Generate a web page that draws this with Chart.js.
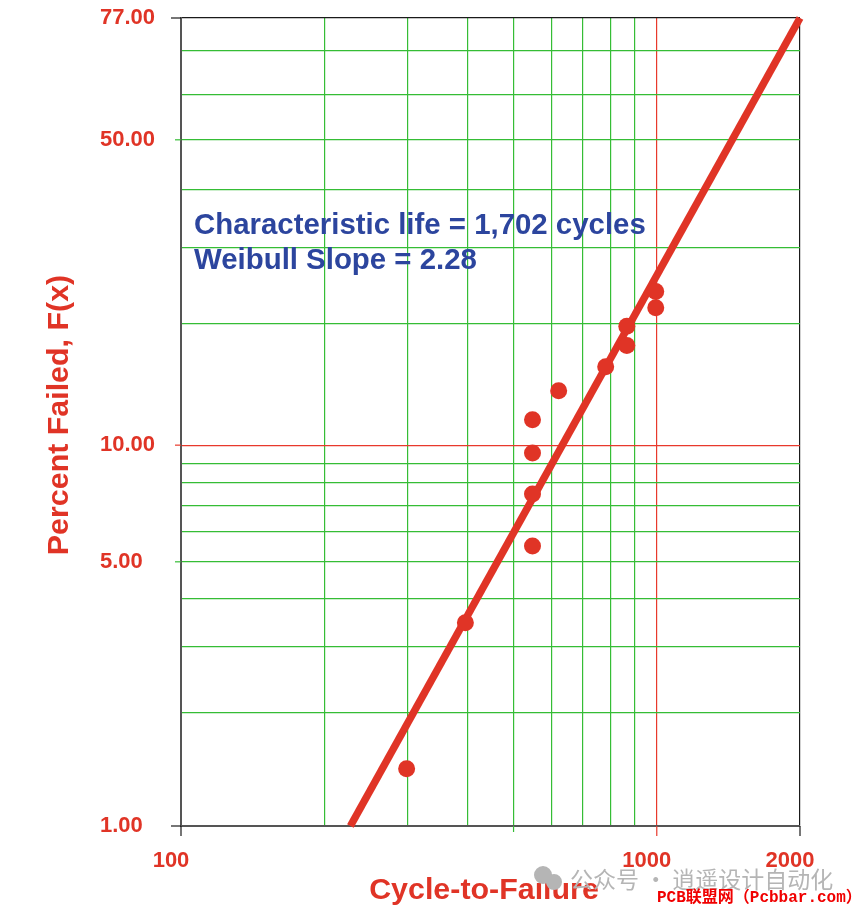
<!DOCTYPE html>
<html>
<head>
<meta charset="utf-8">
<title>Weibull plot</title>
<script src="https://cdn.jsdelivr.net/npm/chart.js@4"></script>
<style>
  html, body { margin: 0; padding: 0; background: #fff; }
  canvas { display: block; }
</style>
</head>
<body>
<canvas id="weibullChart" width="858" height="913"></canvas>
<script>
// Data
const cycles = [298, 396, 548, 548, 548, 548, 622, 781, 865, 865, 995, 995];
const percentFailed = [1.42, 3.46, 5.5, 7.5, 9.55, 11.6, 13.7, 15.7, 17.7, 19.7, 21.8, 23.8];
const fitCycles = [227, 2000];
const fitPercent = [1, 77];

// Tick positions
const xGrid = [100, 200, 300, 400, 500, 600, 700, 800, 900, 1000, 2000];
const xLabels = [100, 1000, 2000];
const yGrid = [1, 2, 3, 4, 5, 6, 7, 8, 9, 10, 20, 30, 40, 50, 60, 70, 77];
const yLabels = [1, 5, 10, 50, 77];

const RED = '#e03426';
const GREEN = '#35bd35';
const BLACK = '#1a1a1a';

// Weibull probability paper: y axis is linear in ln(-ln(1-F))
function weibull(percent) {
    return Math.log(-Math.log(1 - percent / 100));
}

function gridColor(isEdge, isRed) {
    if (isEdge) return BLACK;
    return isRed ? '#e8392c' : GREEN;
}

// Short tick marks outside the frame
const tickMarks = {
    id: 'tickMarks',
    beforeDatasetsDraw(chart) {
        const { ctx, scales: { x, y } } = chart;
        ctx.save();
        ctx.lineWidth = 1.2;
        function mark(x1, y1, x2, y2, color) {
            ctx.strokeStyle = color;
            ctx.beginPath();
            ctx.moveTo(x1, y1);
            ctx.lineTo(x2, y2);
            ctx.stroke();
        }
        [100, 500, 1000, 2000].forEach(v => {
            const px = x.getPixelForValue(v);
            const color = v === 500 ? GREEN : v === 1000 ? '#e8392c' : BLACK;
            mark(px, y.bottom, px, y.bottom + (v === 500 ? 6 : 10), color);
        });
        yLabels.forEach(p => {
            const py = y.getPixelForValue(weibull(p));
            const edge = p === 1 || p === 77;
            mark(x.left, py, x.left - (edge ? 10 : 6), py, gridColor(edge, p === 10));
        });
        ctx.restore();
    }
};

// Axis titles, the note in the plot and the watermarks
const textLayer = {
    id: 'textLayer',
    afterDraw(chart) {
        const { ctx } = chart;
        ctx.save();
        ctx.textBaseline = 'middle';

        ctx.fillStyle = RED;
        ctx.textAlign = 'center';
        ctx.font = 'bold 30.4px "Liberation Sans"';
        ctx.fillText('Cycle-to-Failure', 484, 891);
        ctx.save();
        ctx.translate(60, 415);
        ctx.rotate(-Math.PI / 2);
        ctx.fillText('Percent Failed, F(x)', 0, 0);
        ctx.restore();

        ctx.fillStyle = '#2c459e';
        ctx.textAlign = 'left';
        ctx.font = 'bold 29.4px "Liberation Sans"';
        ctx.fillText('Characteristic life = 1,702 cycles', 194, 226);
        ctx.fillText('Weibull Slope = 2.28', 194, 261);

        ctx.fillStyle = '#b5b5b5';
        ctx.beginPath();
        ctx.arc(543, 875, 9, 0, Math.PI * 2);
        ctx.arc(554, 882, 8, 0, Math.PI * 2);
        ctx.fill();
        ctx.font = '23px "Noto Sans CJK SC"';
        ctx.fillText('公众号 · 逍遥设计自动化', 570, 879);

        ctx.fillStyle = '#f00000';
        ctx.font = 'bold 16px "Liberation Mono", "Noto Sans CJK SC"';
        ctx.fillText('PCB联盟网（Pcbbar.com）', 657, 898);
        ctx.restore();
    }
};

new Chart(document.getElementById('weibullChart'), {
    type: 'scatter',
    data: {
        datasets: [
            {
                label: 'Failures',
                data: cycles.map((c, i) => ({ x: c, y: weibull(percentFailed[i]) })),
                backgroundColor: RED,
                borderColor: RED,
                pointRadius: 8.5,
                pointBorderWidth: 0,
                showLine: false
            },
            {
                label: 'Weibull fit',
                data: fitCycles.map((c, i) => ({ x: c, y: weibull(fitPercent[i]) })),
                borderColor: RED,
                borderWidth: 7.5,
                pointRadius: 0,
                showLine: true,
                clip: false
            }
        ]
    },
    options: {
        responsive: false,
        animation: false,
        layout: { padding: { left: 100, top: 18, right: 58, bottom: 0 } },
        plugins: {
            legend: { display: false },
            tooltip: { enabled: false }
        },
        scales: {
            x: {
                type: 'logarithmic',
                min: 100,
                max: 2000,
                afterFit(scale) { scale.height = 87; },
                afterBuildTicks(scale) { scale.ticks = xGrid.map(v => ({ value: v })); },
                grid: {
                    drawTicks: false,
                    lineWidth: 1.2,
                    color: c => gridColor(c.tick.value === 2000, c.tick.value === 1000)
                },
                border: { color: '#555', width: 2 },
                ticks: {
                    autoSkip: false,
                    maxRotation: 0,
                    minRotation: 0,
                    padding: 22,
                    labelOffset: -10,
                    color: RED,
                    font: { family: '"Liberation Sans"', size: 22, weight: 'bold' },
                    callback: v => xLabels.includes(v) ? String(v) : ''
                }
            },
            y: {
                type: 'linear',
                min: weibull(1),
                max: weibull(77),
                afterFit(scale) { scale.width = 81; },
                afterBuildTicks(scale) { scale.ticks = yGrid.map(p => ({ value: weibull(p), percent: p })); },
                grid: {
                    drawTicks: false,
                    lineWidth: 1.2,
                    color: c => gridColor(c.tick.percent === 1 || c.tick.percent === 77, c.tick.percent === 10)
                },
                border: { color: '#555', width: 2 },
                ticks: {
                    autoSkip: false,
                    crossAlign: 'far',
                    color: RED,
                    font: { family: '"Liberation Sans"', size: 22, weight: 'bold' },
                    callback(v, i, ticks) {
                        const p = ticks[i].percent;
                        return yLabels.includes(p) ? p.toFixed(2) : '';
                    }
                }
            }
        }
    },
    plugins: [tickMarks, textLayer]
});
</script>
</body>
</html>
